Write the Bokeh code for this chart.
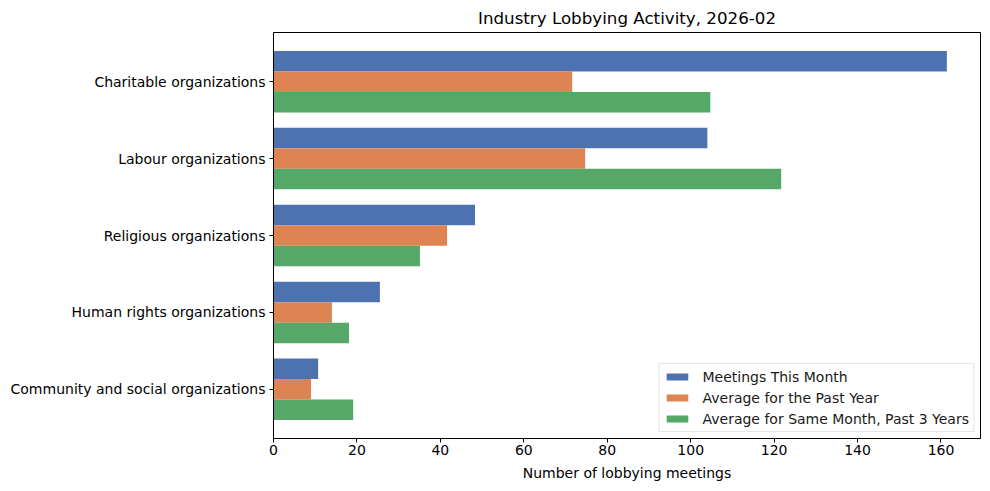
from bokeh.plotting import figure
from bokeh.models import Range1d, FixedTicker, Legend
from bokeh.embed import file_html
from bokeh.resources import INLINE

# Data (top to bottom as displayed)
categories = [
    "Charitable organizations",
    "Labour organizations",
    "Religious organizations",
    "Human rights organizations",
    "Community and social organizations",
]
meetings_this_month = [161.4, 104, 48.3, 25.5, 10.7]
avg_past_year = [71.6, 74.7, 41.6, 14.0, 9.0]
avg_same_month_3y = [104.7, 121.7, 35.1, 18.1, 19.1]
series_names = [
    "Meetings This Month",
    "Average for the Past Year",
    "Average for Same Month, Past 3 Years",
]
series_colors = ["#4C72B0", "#DD8452", "#55A868"]
x_ticks = [0, 20, 40, 60, 80, 100, 120, 140, 160]

n = len(categories)
ypos = [n - 1 - i for i in range(n)]
bar_h = 0.8 / 3
offsets = [bar_h, 0.0, -bar_h]
series = [meetings_this_month, avg_past_year, avg_same_month_3y]

xmax = max(max(s) for s in series) * 1.05

FONT = "DejaVu Sans"

p = figure(
    frame_width=707, frame_height=406,
    x_range=Range1d(0, xmax), y_range=Range1d(-0.64, n - 1 + 0.64),
    output_backend="svg", toolbar_location=None,
    title="Industry Lobbying Activity, 2026-02",
    min_border_left=273, min_border_right=2, min_border_top=24, min_border_bottom=45,
)
p.title.align = "center"
p.title.text_font = FONT
p.title.text_font_size = "16.7px"
p.title.text_font_style = "normal"
p.title.text_color = "black"

renderers = []
for s, off, name, col in zip(series, offsets, series_names, series_colors):
    r = p.hbar(y=[y + off for y in ypos], right=s, left=0, height=bar_h,
               fill_color=col, line_color=None)
    renderers.append((name, [r]))

p.xgrid.visible = False
p.ygrid.visible = False
p.outline_line_color = "black"
p.outline_line_alpha = 1.0
p.outline_line_width = 1

p.xaxis.ticker = FixedTicker(ticks=x_ticks)
p.yaxis.ticker = FixedTicker(ticks=ypos)
p.yaxis.major_label_overrides = {y: c for y, c in zip(ypos, categories)}
for ax in (p.xaxis, p.yaxis):
    ax.major_tick_in = 0
    ax.major_tick_out = 4
    ax.minor_tick_line_color = None
    ax.axis_line_color = "black"
    ax.major_tick_line_color = "black"
    ax.major_label_text_font = FONT
    ax.major_label_text_font_size = "14px"
    ax.major_label_text_color = "black"
    ax.major_label_standoff = 4
p.xaxis.major_label_standoff = 2
p.xaxis.axis_label = "Number of lobbying meetings"
p.xaxis.axis_label_text_font = FONT
p.xaxis.axis_label_text_font_size = "14px"
p.xaxis.axis_label_text_font_style = "normal"
p.xaxis.axis_label_text_color = "black"
p.xaxis.axis_label_standoff = 7

legend = Legend(items=renderers, location="bottom_right")
legend.label_text_font = FONT
legend.label_text_font_size = "14px"
legend.label_text_color = "#1a1a1a"
legend.glyph_width = 27
legend.glyph_height = 9
legend.label_height = 17
legend.spacing = 4
legend.padding = 4
legend.margin = 6
legend.label_standoff = 12
legend.border_line_color = "#cccccc"
legend.background_fill_alpha = 0.8
p.add_layout(legend)

open("out.html", "w").write(file_html(p, INLINE))
